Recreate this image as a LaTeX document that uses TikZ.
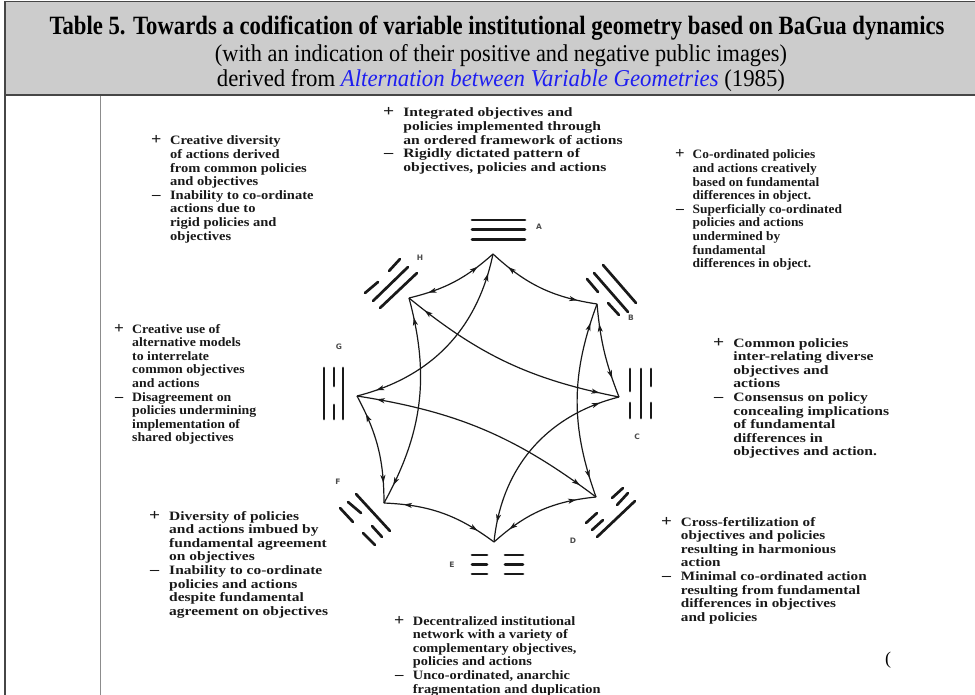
\documentclass[tikz,border=0pt]{standalone}
\usepackage{fontspec}
\usepackage{graphicx}
\setmainfont{Liberation Serif}
\newfontfamily\scanfont[FakeStretch=1.08]{Liberation Serif}
\newfontfamily\lblfont{DejaVu Sans}
\usetikzlibrary{arrows.meta,decorations.markings}
\definecolor{hdrgray}{RGB}{204,204,204}
\definecolor{framegray}{RGB}{70,70,70}
\definecolor{linkblue}{RGB}{30,30,240}
\definecolor{ink}{RGB}{25,25,25}
\newcommand\blk[2][1]{\scalebox{#1}[1]{\scanfont\bfseries\fontsize{12.8}{13.6}\selectfont\color{ink}\begin{tabular}[t]{@{}p{17pt}@{}l@{}}#2\end{tabular}}}
\newcommand\pl{\makebox[0pt][l]{\hspace*{-1pt}\fontsize{16}{16}\selectfont\bfseries +}}
\newcommand\mi{\makebox[0pt][l]{\fontsize{15}{15}\selectfont\bfseries –}}
\tikzset{
  tri/.style={line width=2.7pt, ink, line cap=round},
  lbl/.style={font=\lblfont\bfseries\fontsize{7.5}{8}\selectfont, text=black!70, inner sep=0},
  blockn/.style={anchor=base west, inner sep=0},
  link/.style={line width=1.2pt, ink, postaction={decorate},
    decoration={markings,
      mark=at position 20pt with {\arrowreversed{Stealth[length=8pt,width=5pt,inset=2pt]}},
      mark=at position -20pt with {\arrow{Stealth[length=8pt,width=5pt,inset=2pt]}}}}
}
\begin{document}
\begin{tikzpicture}[x=1pt,y=-1pt]
\useasboundingbox (0,0) rectangle (975,695);
% header
\fill[hdrgray] (5,2) rectangle (975,95);
\draw[framegray, line width=1.5pt] (975,1.5) -- (5,1.5) -- (5,695);
\draw[framegray, line width=1.2pt] (5,95) -- (975,95);
\draw[black!45, line width=0.8pt] (100,96) -- (100,695);
\node[inner sep=0] (t1) at (497,28) {\resizebox{895pt}{1.2\height}{\fontsize{22}{24}\selectfont\bfseries Table 5. Towards a codification of variable institutional geometry based on BaGua dynamics}};
\node[inner sep=0] (t2) at (501,56) {\resizebox{572pt}{1.15\height}{\fontsize{21}{24}\selectfont (with an indication of their positive and negative public images)}};
\node[inner sep=0] (t3) at (501,81) {\resizebox{568pt}{1.15\height}{\fontsize{21}{24}\selectfont derived from \textcolor{linkblue}{\itshape Alternation between Variable Geometries} (1985)}};

% vertices
\coordinate (A) at (493,254);
\coordinate (H) at (409,298);
\coordinate (B) at (597,304);
\coordinate (G) at (357,396);
\coordinate (C) at (619,397);
\coordinate (F) at (384,503);
\coordinate (D) at (596,497);
\coordinate (E) at (494,542);

% edges
\draw[link] (A) to[bend left=14] (H);
\draw[link] (A) to[bend right=17] (B);
\draw[link] (B) to[bend right=8] (C);
\draw[link] (G) to[bend left=14] (F);
\draw[link] (F) to[bend left=17] (E);
\draw[link] (D) to[bend right=18] (E);
\draw[link] (A) to[bend left=32] (G);
\draw[link] (H) to[bend right=14] (C);
\draw[link] (B) to[bend right=20] (D);
\draw[link] (H) to[bend left=22] (F);
\draw[link] (G) to[bend left=14] (D);
\draw[link] (C) to[bend right=35] (E);

% trigrams
% A
\draw[tri] (472,220) -- (525,220);
\draw[tri] (472,229.5) -- (525,229.5);
\draw[tri] (472,239.5) -- (525,239.5);
% E
\foreach \yy in {555,564.5,574} {\draw[tri] (472,\yy) -- (487,\yy); \draw[tri] (505,\yy) -- (523,\yy);}
% G
\draw[tri] (324,368) -- (324,419);
\draw[tri] (334,368) -- (334,386); \draw[tri] (334,405) -- (334,419);
\draw[tri] (343,368) -- (343,419);
% C
\draw[tri] (630,369) -- (630,391); \draw[tri] (630,403) -- (630,418);
\draw[tri] (641,369) -- (641,418);
\draw[tri] (651,369) -- (651,386); \draw[tri] (651,403) -- (651,418);
% H
\draw[tri] (365,293) -- (378,282); \draw[tri] (389,271) -- (400,259);
\draw[tri] (373,301) -- (408,267);
\draw[tri] (380,308) -- (417,273);
% B
\draw[tri] (603,265) -- (636,303);
\draw[tri] (594,273) -- (628,312);
\draw[tri] (587,279) -- (598,292); \draw[tri] (608,303) -- (619,315);
% F
\draw[tri] (340,508) -- (353,522); \draw[tri] (363,533) -- (375,545);
\draw[tri] (348,502) -- (361,513); \draw[tri] (372,526) -- (382,537);
\draw[tri] (356,494) -- (390,531);
% D
\draw[tri] (612,498) -- (623,488); \draw[tri] (586,523) -- (597,513);
\draw[tri] (617,505) -- (628,493); \draw[tri] (592,530) -- (603,520);
\draw[tri] (597,537) -- (635,501);

% labels
\node[lbl] (lA) at (539,227) {A};
\node[lbl] (lH) at (420,258) {H};
\node[lbl] (lB) at (631,318) {B};
\node[lbl] (lG) at (339,347) {G};
\node[lbl] (lC) at (637,437) {C};
\node[lbl] (lF) at (338,482) {F};
\node[lbl] (lD) at (573,541) {D};
\node[lbl] (lE) at (452,565) {E};

% text blocks
\node[blockn] (tl) at (152,145) {\blk[1.05]{\pl & Creative diversity\\
 & of actions derived\\
 & from common policies\\
 & and objectives\\
\mi & Inability to co-ordinate\\
 & actions due to\\
 & rigid policies and\\
 & objectives}};
\node[blockn] (top) at (384,117) {\blk[1.13]{\pl & Integrated objectives and\\
 & policies implemented through\\
 & an ordered framework of actions\\
\mi & Rigidly dictated pattern of\\
 & objectives, policies and actions}};
\node[blockn] (tr) at (676,159) {\blk[0.97]{\pl & Co-ordinated policies\\
 & and actions creatively\\
 & based on fundamental\\
 & differences in object.\\
\mi & Superficially co-ordinated\\
 & policies and actions\\
 & undermined by\\
 & fundamental\\
 & differences in object.}};
\node[blockn] (lt) at (115,333) {\blk{\pl & Creative use of\\
 & alternative models\\
 & to interrelate\\
 & common objectives\\
 & and actions\\
\mi & Disagreement on\\
 & policies undermining\\
 & implementation of\\
 & shared objectives}};
\node[blockn] (rt) at (714,347) {\blk[1.13]{\pl & Common policies\\
 & inter-relating diverse\\
 & objectives and\\
 & actions\\
\mi & Consensus on policy\\
 & concealing implications\\
 & of fundamental\\
 & differences in\\
 & objectives and action.}};
\node[blockn] (bl) at (150,520) {\blk[1.12]{\pl & Diversity of policies\\
 & and actions imbued by\\
 & fundamental agreement\\
 & on objectives\\
\mi & Inability to co-ordinate\\
 & policies and actions\\
 & despite fundamental\\
 & agreement on objectives}};
\node[blockn] (br) at (662,526) {\blk[1.1]{\pl & Cross-fertilization of\\
 & objectives and policies\\
 & resulting in harmonious\\
 & action\\
\mi & Minimal co-ordinated action\\
 & resulting from fundamental\\
 & differences in objectives\\
 & and policies}};
\node[blockn] (bt) at (395,625) {\blk[1.04]{\pl & Decentralized institutional\\
 & network with a variety of\\
 & complementary objectives,\\
 & policies and actions\\
\mi & Unco-ordinated, anarchic\\
 & fragmentation and duplication}};
\node[inner sep=0, font=\fontsize{18}{20}\selectfont] (par) at (888,660) {(};
\end{tikzpicture}
\end{document}
